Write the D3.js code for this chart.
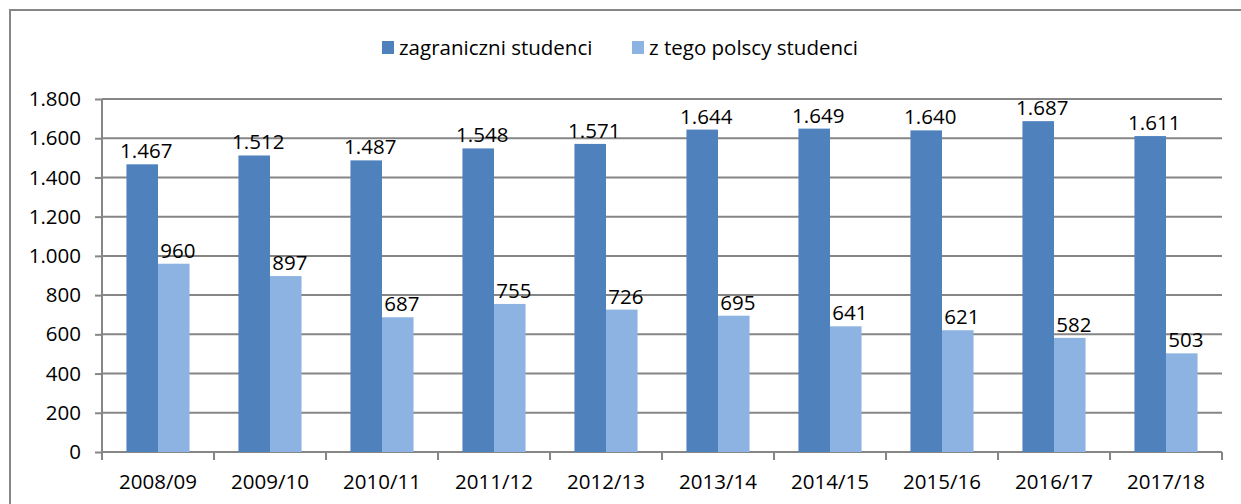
<!DOCTYPE html>
<html>
<head>
<meta charset="utf-8">
<script src="https://cdn.jsdelivr.net/npm/d3@7"></script>
<style>
  body { margin: 0; background: #fff; }
  svg { display: block; font-family: "Open Sans", sans-serif; }
</style>
</head>
<body>
<svg id="chart" width="1241" height="504"></svg>
<script>
const years = ['2008/09', '2009/10', '2010/11', '2011/12', '2012/13', '2013/14', '2014/15', '2015/16', '2016/17', '2017/18'];
const foreignStudents = [1467, 1512, 1487, 1548, 1571, 1644, 1649, 1640, 1687, 1611];
const polishStudents = [960, 897, 687, 755, 726, 695, 641, 621, 582, 503];
const seriesNames = ['zagraniczni studenci', 'z tego polscy studenci'];
const yTicks = [0, 200, 400, 600, 800, 1000, 1200, 1400, 1600, 1800];

const margin = { left: 102, right: 19, top: 99, bottom: 52 };
const size = { width: 1241, height: 504 };
const colors = ['#4f81bd', '#8db3e2'];
const gridColor = '#868686';
const fontSize = 20.5;

const svg = d3.select('#chart');

// outer frame (runs past the right and bottom edges like the original)
svg.append('rect')
    .attr('x', 10).attr('y', 10)
    .attr('width', size.width + 20).attr('height', size.height + 20)
    .attr('fill', 'none')
    .attr('stroke', gridColor)
    .attr('stroke-width', 2);

const xScale = d3.scaleBand()
    .domain(years)
    .range([margin.left, size.width - margin.right])
    .padding(0);

const yScale = d3.scaleLinear()
    .domain([0, 1800])
    .range([size.height - margin.bottom, margin.top]);

// bar widths: two bars per group, gap of ~155% of a bar
const barW = xScale.bandwidth() / 3.55;
const xSub = d3.scaleBand()
    .domain([0, 1])
    .range([(xScale.bandwidth() - 2 * barW) / 2, (xScale.bandwidth() + 2 * barW) / 2]);

// gridlines
svg.append('g')
    .selectAll('line')
    .data(yTicks.slice(1))
    .join('line')
    .attr('x1', margin.left)
    .attr('x2', size.width - margin.right)
    .attr('y1', d => yScale(d))
    .attr('y2', d => yScale(d))
    .attr('stroke', gridColor)
    .attr('stroke-width', 2);

// y axis
const yAxis = svg.append('g')
    .attr('transform', `translate(${margin.left}, 0)`)
    .call(d3.axisLeft(yScale)
        .tickValues(yTicks)
        .tickSize(7)
        .tickPadding(14)
        .tickFormat(d => d3.format(',')(d).replace(/,/g, '.')));
yAxis.selectAll('path, line').attr('stroke', gridColor).attr('stroke-width', 2);
yAxis.select('.domain').attr('d', `M0,${yScale(1800)}V${yScale(0)}`);
yAxis.selectAll('text')
    .attr('fill', '#000')
    .style('font-size', fontSize + 'px')
    .style('font-family', '"Open Sans", sans-serif');

// x axis
const xAxis = svg.append('g')
    .attr('transform', `translate(0, ${yScale(0)})`)
    .call(d3.axisBottom(xScale).tickSize(0).tickPadding(22));
xAxis.select('.domain').attr('stroke', gridColor).attr('stroke-width', 2)
    .attr('d', `M${margin.left},0H${size.width - margin.right}`);
xAxis.selectAll('text')
    .attr('fill', '#000')
    .style('font-size', fontSize + 'px')
    .style('font-family', '"Open Sans", sans-serif');

// category separator ticks
svg.append('g')
    .selectAll('line')
    .data(years.concat(['end']))
    .join('line')
    .attr('x1', (d, i) => i < years.length ? xScale(d) : xScale.range()[1])
    .attr('x2', (d, i) => i < years.length ? xScale(d) : xScale.range()[1])
    .attr('y1', yScale(0))
    .attr('y2', yScale(0) + 8)
    .attr('stroke', gridColor)
    .attr('stroke-width', 2);

const rows = years.map((y, i) => ({ year: y, values: [foreignStudents[i], polishStudents[i]] }));

// bars
const groups = svg.append('g')
    .selectAll('g')
    .data(rows)
    .join('g')
    .attr('transform', d => `translate(${xScale(d.year)}, 0)`);

groups.selectAll('rect')
    .data(d => d.values)
    .join('rect')
    .attr('x', (d, i) => xSub(i))
    .attr('width', barW)
    .attr('y', d => yScale(d))
    .attr('height', d => yScale(0) - yScale(d))
    .attr('fill', (d, i) => colors[i]);

// value labels
groups.selectAll('text')
    .data(d => d.values)
    .join('text')
    .attr('x', (d, i) => xSub(i) + barW / 2 + 4)
    .attr('y', d => yScale(d) - 6)
    .attr('text-anchor', 'middle')
    .style('font-size', fontSize + 'px')
    .text(d => d3.format(',')(d).replace(/,/g, '.'));

// legend
const legend = svg.append('g').attr('transform', 'translate(382, 41)');
const legendX = [0, 250];
seriesNames.forEach((name, i) => {
    legend.append('rect')
        .attr('x', legendX[i])
        .attr('y', 0)
        .attr('width', 12)
        .attr('height', 13)
        .attr('fill', colors[i]);
    legend.append('text')
        .attr('x', legendX[i] + 17)
        .attr('y', 7)
        .attr('dy', '0.35em')
        .style('font-size', fontSize + 'px')
        .text(name);
});
</script>
</body>
</html>
